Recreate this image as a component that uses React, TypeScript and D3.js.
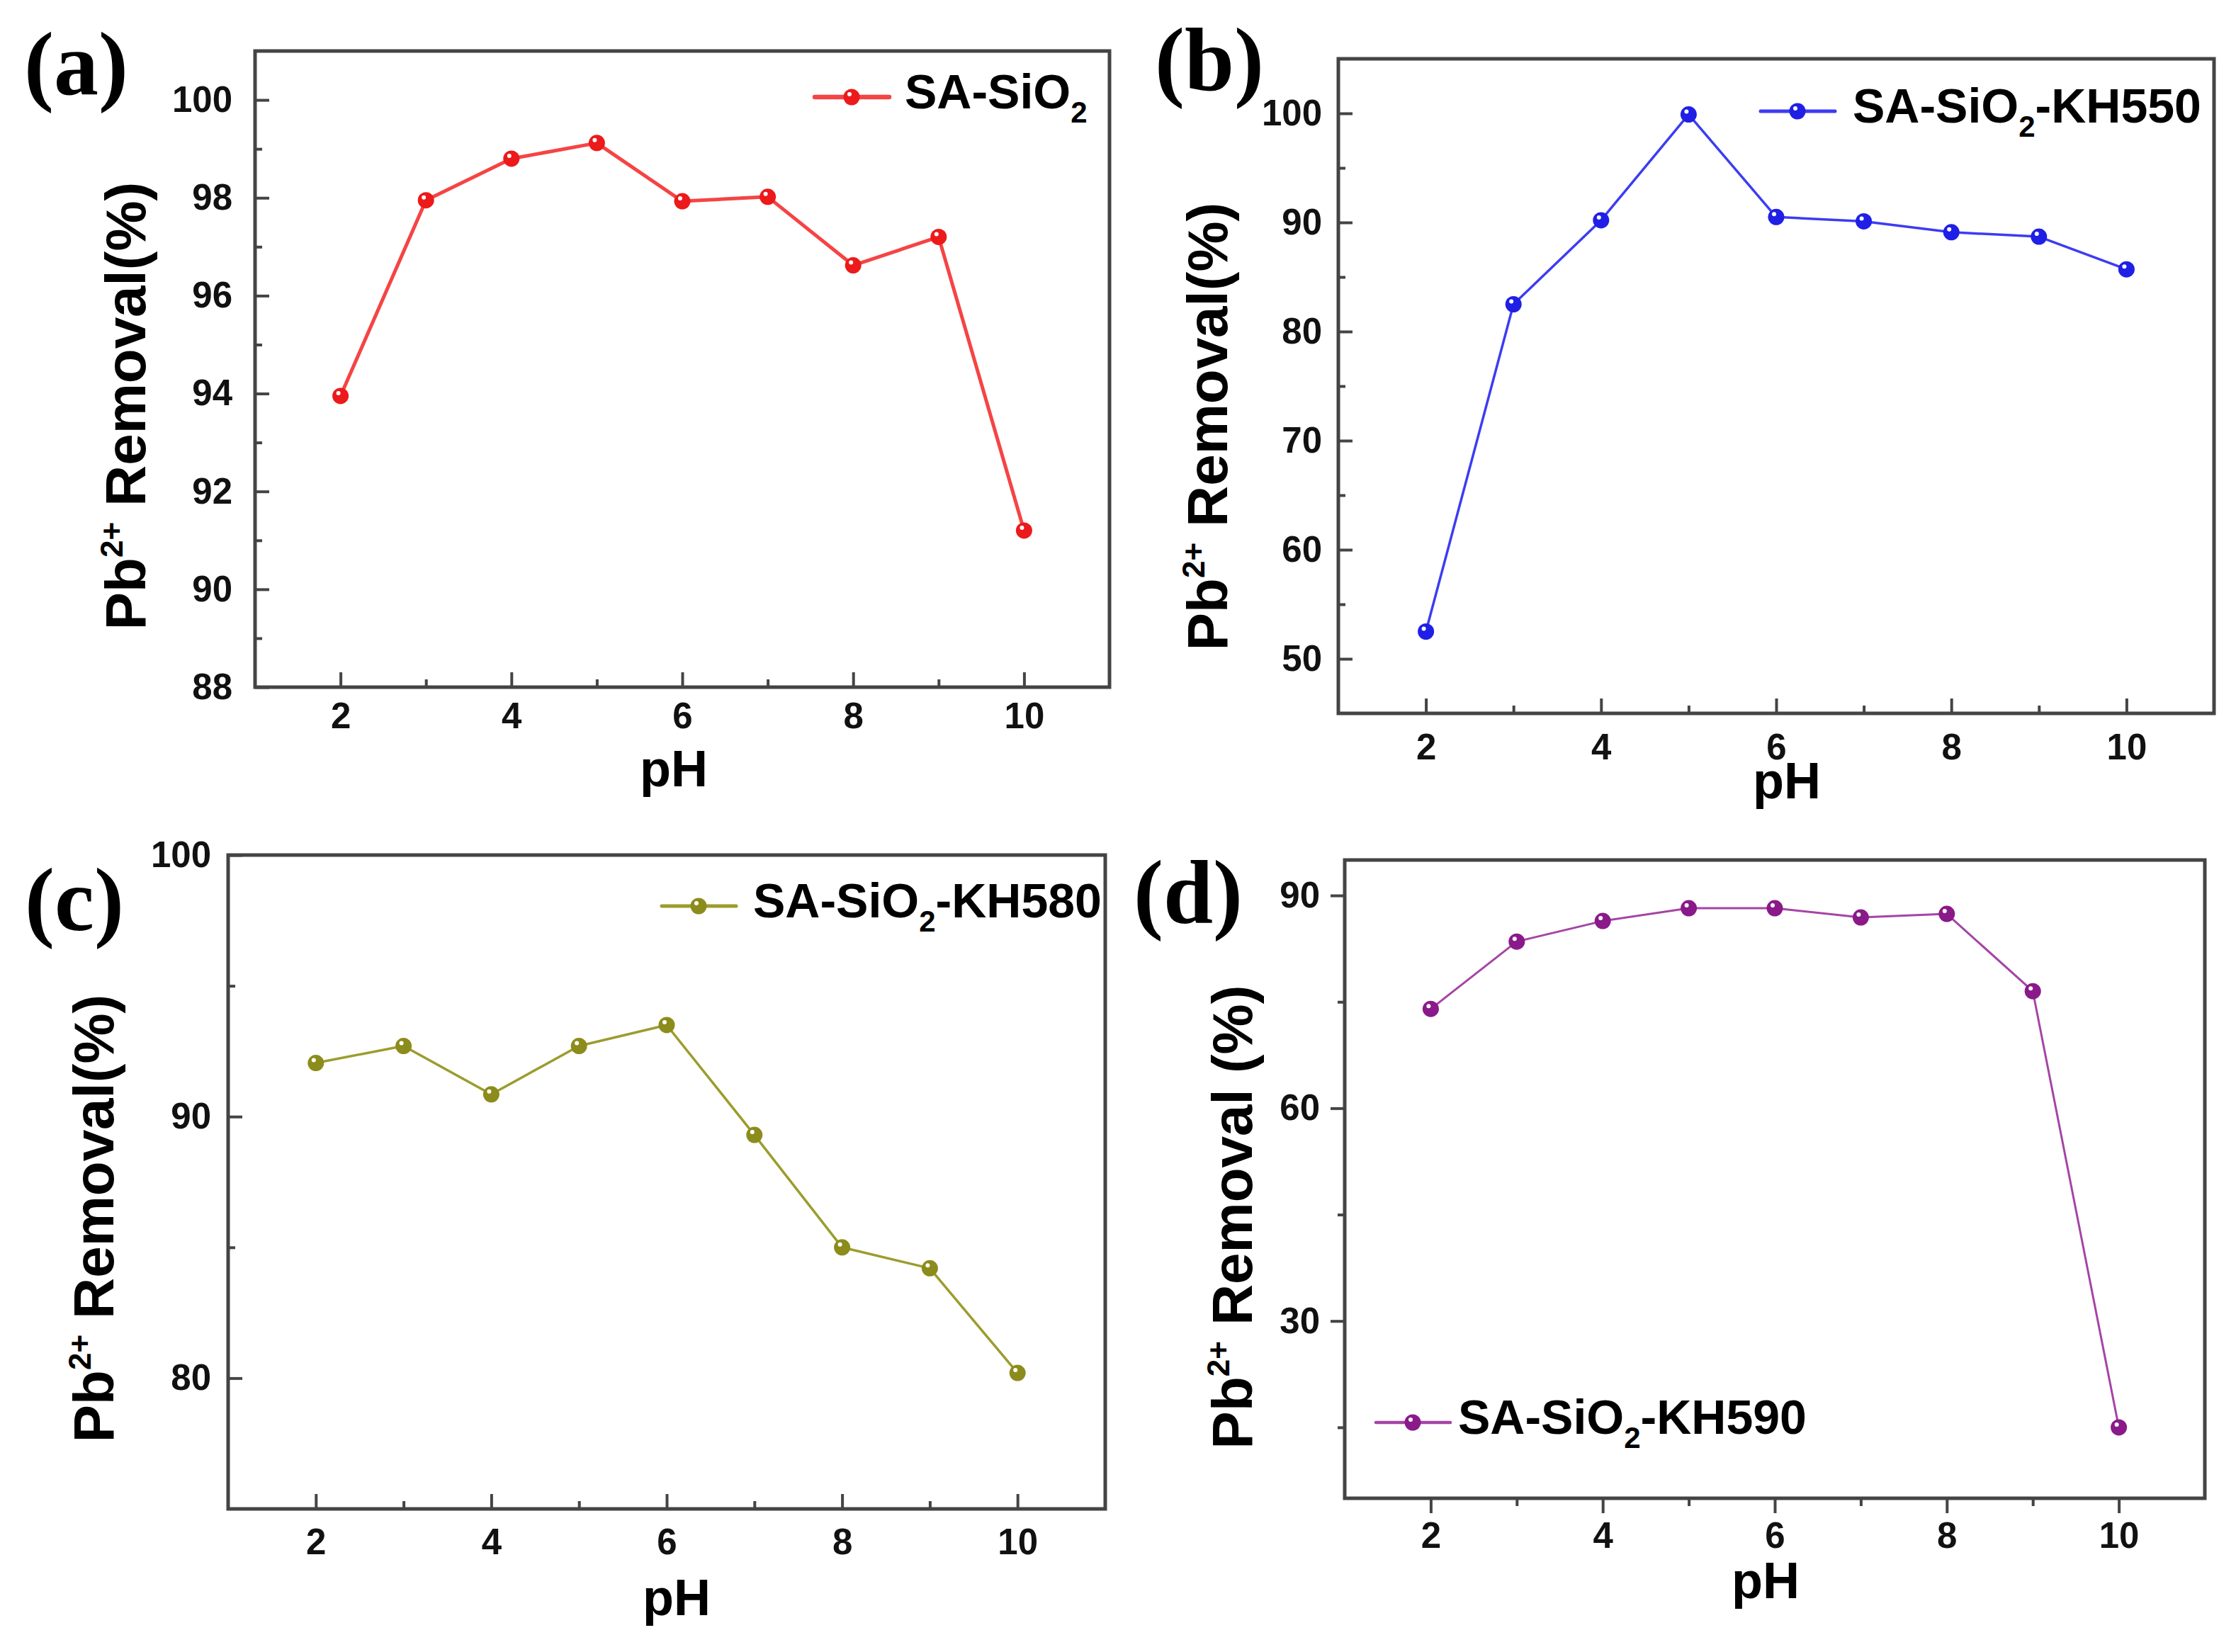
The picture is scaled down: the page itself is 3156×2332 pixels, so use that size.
import React, { useEffect, useRef } from "react";
import * as d3 from "d3";

const W = 3156;
const H = 2332;
const SANS = "'Liberation Sans', Arial, Helvetica, sans-serif";
const SERIF = "'Liberation Serif', 'Times New Roman', serif";

// pH values shared by all four panels
const phValues = [2, 3, 4, 5, 6, 7, 8, 9, 10];

// Pb2+ removal (%)
const removalSiO2 = [93.95, 97.95, 98.8, 99.12, 97.93, 98.02, 96.62, 97.2, 91.2];
const removalKH550 = [52.5, 82.5, 90.2, 99.9, 90.5, 90.1, 89.1, 88.7, 85.7];
const removalKH580 = [92.05, 92.7, 90.85, 92.7, 93.5, 89.3, 85.0, 84.2, 80.2];
const removalKH590 = [74.0, 83.5, 86.4, 88.2, 88.2, 86.9, 87.4, 76.5, 15.0];

// tick values
const xMajorTicks = [2, 4, 6, 8, 10];
const xMinorTicks = [3, 5, 7, 9];
const yMajorA = [88, 90, 92, 94, 96, 98, 100];
const yMinorA = [89, 91, 93, 95, 97, 99];
const yMajorB = [50, 60, 70, 80, 90, 100];
const yMinorB = [55, 65, 75, 85, 95];
const yMajorC = [80, 90, 100];
const yMinorC = [85, 95];
const yMajorD = [30, 60, 90];
const yMinorD = [15, 45, 75];

// legend names: [main, subscript, rest]
const nameA = ["SA-SiO", "2", ""];
const nameB = ["SA-SiO", "2", "-KH550"];
const nameC = ["SA-SiO", "2", "-KH580"];
const nameD = ["SA-SiO", "2", "-KH590"];

type Panel = {
  tag: string;
  values: number[];
  name: string[];
  yDomain: [number, number];
  yMajor: number[];
  yMinor: number[];
  yTitle: string;
  line: string;
  dot: string;
  lineWidth: number;
  box: [number, number, number, number];
  outward: boolean;
  xPad: number;
  yPad: number;
  tagPos: [number, number];
  yTitlePos: [number, number];
  xTitlePos: [number, number];
  legend: [number, number, number];
};

const panels: Panel[] = [
  {
    tag: "(a)", values: removalSiO2, name: nameA, yDomain: [88, 101],
    yMajor: yMajorA, yMinor: yMinorA, yTitle: "Removal(%)",
    line: "#f54444", dot: "#ec1a1a", lineWidth: 5,
    box: [360, 72, 1566, 970], outward: false, xPad: 22, yPad: 32,
    tagPos: [34, 133], yTitlePos: [205, 573], xTitlePos: [951, 1110],
    legend: [1150, 137, 1277],
  },
  {
    tag: "(b)", values: removalKH550, name: nameB, yDomain: [45, 105],
    yMajor: yMajorB, yMinor: yMinorB, yTitle: "Removal(%)",
    line: "#3c3cf2", dot: "#1f1fe6", lineWidth: 3.5,
    box: [1889, 83, 3125, 1007], outward: false, xPad: 29, yPad: 23,
    tagPos: [1630, 127], yTitlePos: [1732, 602], xTitlePos: [2522, 1127],
    legend: [2485, 157, 2615],
  },
  {
    tag: "(c)", values: removalKH580, name: nameC, yDomain: [75, 100],
    yMajor: yMajorC, yMinor: yMinorC, yTitle: "Removal(%)",
    line: "#9c9c2e", dot: "#8c8c1c", lineWidth: 3.5,
    box: [322, 1207, 1560, 2130], outward: false, xPad: 28, yPad: 24,
    tagPos: [35, 1313], yTitlePos: [160, 1720], xTitlePos: [955, 2280],
    legend: [934, 1279, 1063],
  },
  {
    tag: "(d)", values: removalKH590, name: nameD, yDomain: [5, 95],
    yMajor: yMajorD, yMinor: yMinorD, yTitle: "Removal (%)",
    line: "#a544a5", dot: "#8a1a8a", lineWidth: 3,
    box: [1898, 1214, 3112, 2115], outward: true, xPad: 13, yPad: 15,
    tagPos: [1600, 1302], yTitlePos: [1767, 1718], xTitlePos: [2492, 2256],
    legend: [1942, 2008, 2058],
  },
];

function styleAxis(a: d3.Selection<SVGGElement, unknown, null, undefined>) {
  a.select(".domain").remove();
  a.attr("font-size", 51).attr("font-family", SANS).attr("font-weight", "bold");
  a.selectAll("line").attr("stroke", "#444").attr("stroke-width", 4);
  a.selectAll("text").attr("fill", "#111");
}

function drawPanel(svg: d3.Selection<SVGSVGElement, unknown, null, undefined>, p: Panel) {
  const [x0, y0, x1, y1] = p.box;
  const x = d3.scaleLinear().domain([1, 11]).range([x0, x1]);
  const y = d3.scaleLinear().domain(p.yDomain).range([y1, y0]);
  const dir = p.outward ? 1 : -1;
  const g = svg.append("g");

  // axes: major + minor ticks
  const xa = g.append("g").attr("transform", `translate(0,${y1})`)
    .call(d3.axisBottom(x).tickValues(xMajorTicks).tickSizeInner(dir * 21)
      .tickSizeOuter(0).tickPadding(p.xPad).tickFormat(d3.format("d")));
  styleAxis(xa);
  const xm = g.append("g").attr("transform", `translate(0,${y1})`)
    .call(d3.axisBottom(x).tickValues(xMinorTicks).tickSizeInner(dir * 11)
      .tickSizeOuter(0).tickFormat(() => ""));
  styleAxis(xm);

  const ya = g.append("g").attr("transform", `translate(${x0},0)`)
    .call(d3.axisLeft(y).tickValues(p.yMajor).tickSizeInner(dir * 20)
      .tickSizeOuter(0).tickPadding(p.yPad).tickFormat(d3.format("d")));
  styleAxis(ya);
  const ym = g.append("g").attr("transform", `translate(${x0},0)`)
    .call(d3.axisLeft(y).tickValues(p.yMinor).tickSizeInner(dir * 10)
      .tickSizeOuter(0).tickFormat(() => ""));
  styleAxis(ym);

  // frame
  g.append("rect")
    .attr("x", x0).attr("y", y0)
    .attr("width", x1 - x0).attr("height", y1 - y0)
    .attr("fill", "none").attr("stroke", "#444").attr("stroke-width", 5);

  // series
  const pts = phValues.map((ph, i) => [ph, p.values[i]] as [number, number]);
  const line = d3.line<[number, number]>().x((d) => x(d[0])).y((d) => y(d[1]));
  g.append("path")
    .attr("d", line(pts))
    .attr("fill", "none")
    .attr("stroke", p.line)
    .attr("stroke-width", p.lineWidth)
    .attr("stroke-linejoin", "round");

  const drawDot = (cx: number, cy: number) => {
    g.append("circle").attr("cx", cx).attr("cy", cy).attr("r", 11.5).attr("fill", p.dot);
    g.append("circle").attr("cx", cx - 3).attr("cy", cy - 4).attr("r", 3).attr("fill", "#fff");
  };
  pts.forEach((d) => drawDot(x(d[0]), y(d[1])));

  // legend
  const [lx, ly, tx] = p.legend;
  g.append("line")
    .attr("x1", lx).attr("x2", lx + 105).attr("y1", ly).attr("y2", ly)
    .attr("stroke", p.line).attr("stroke-width", p.lineWidth + 1.5)
    .attr("stroke-linecap", "round");
  drawDot(lx + 52, ly);
  const lt = g.append("text")
    .attr("x", tx).attr("y", ly + 16)
    .attr("font-family", SANS).attr("font-weight", "bold")
    .attr("font-size", 68).attr("fill", "#000");
  lt.append("tspan").text(p.name[0]);
  lt.append("tspan").attr("font-size", 42).attr("dy", 20).text(p.name[1]);
  if (p.name[2]) lt.append("tspan").attr("dy", -20).text(p.name[2]);

  // axis titles
  const yt = g.append("text")
    .attr("transform", `translate(${p.yTitlePos[0]},${p.yTitlePos[1]}) rotate(-90)`)
    .attr("text-anchor", "middle")
    .attr("font-family", SANS).attr("font-weight", "bold")
    .attr("font-size", 80).attr("fill", "#000")
    .style("white-space", "pre");
  yt.append("tspan").text("Pb");
  yt.append("tspan").attr("font-size", 44).attr("dy", -32).text("2+");
  yt.append("tspan").attr("dy", 32).text(" " + p.yTitle);

  g.append("text")
    .attr("x", p.xTitlePos[0]).attr("y", p.xTitlePos[1])
    .attr("text-anchor", "middle")
    .attr("font-family", SANS).attr("font-weight", "bold")
    .attr("font-size", 72).attr("fill", "#000")
    .text("pH");

  // panel tag
  g.append("text")
    .attr("x", p.tagPos[0]).attr("y", p.tagPos[1])
    .attr("font-family", SERIF).attr("font-weight", "bold")
    .attr("font-size", 126).attr("fill", "#000")
    .text(p.tag);
}

export default function App() {
  const svgRef = useRef<SVGSVGElement>(null);

  useEffect(() => {
    if (!svgRef.current) return;
    const svg = d3.select(svgRef.current);
    svg.selectAll("*").remove();
    svg.append("rect").attr("width", W).attr("height", H).attr("fill", "#fff");
    panels.forEach((p) => drawPanel(svg, p));
  }, []);

  return (
    <svg
      ref={svgRef}
      width={W}
      height={H}
      viewBox={`0 0 ${W} ${H}`}
      style={{ position: "absolute", left: 0, top: 0, display: "block" }}
    />
  );
}
